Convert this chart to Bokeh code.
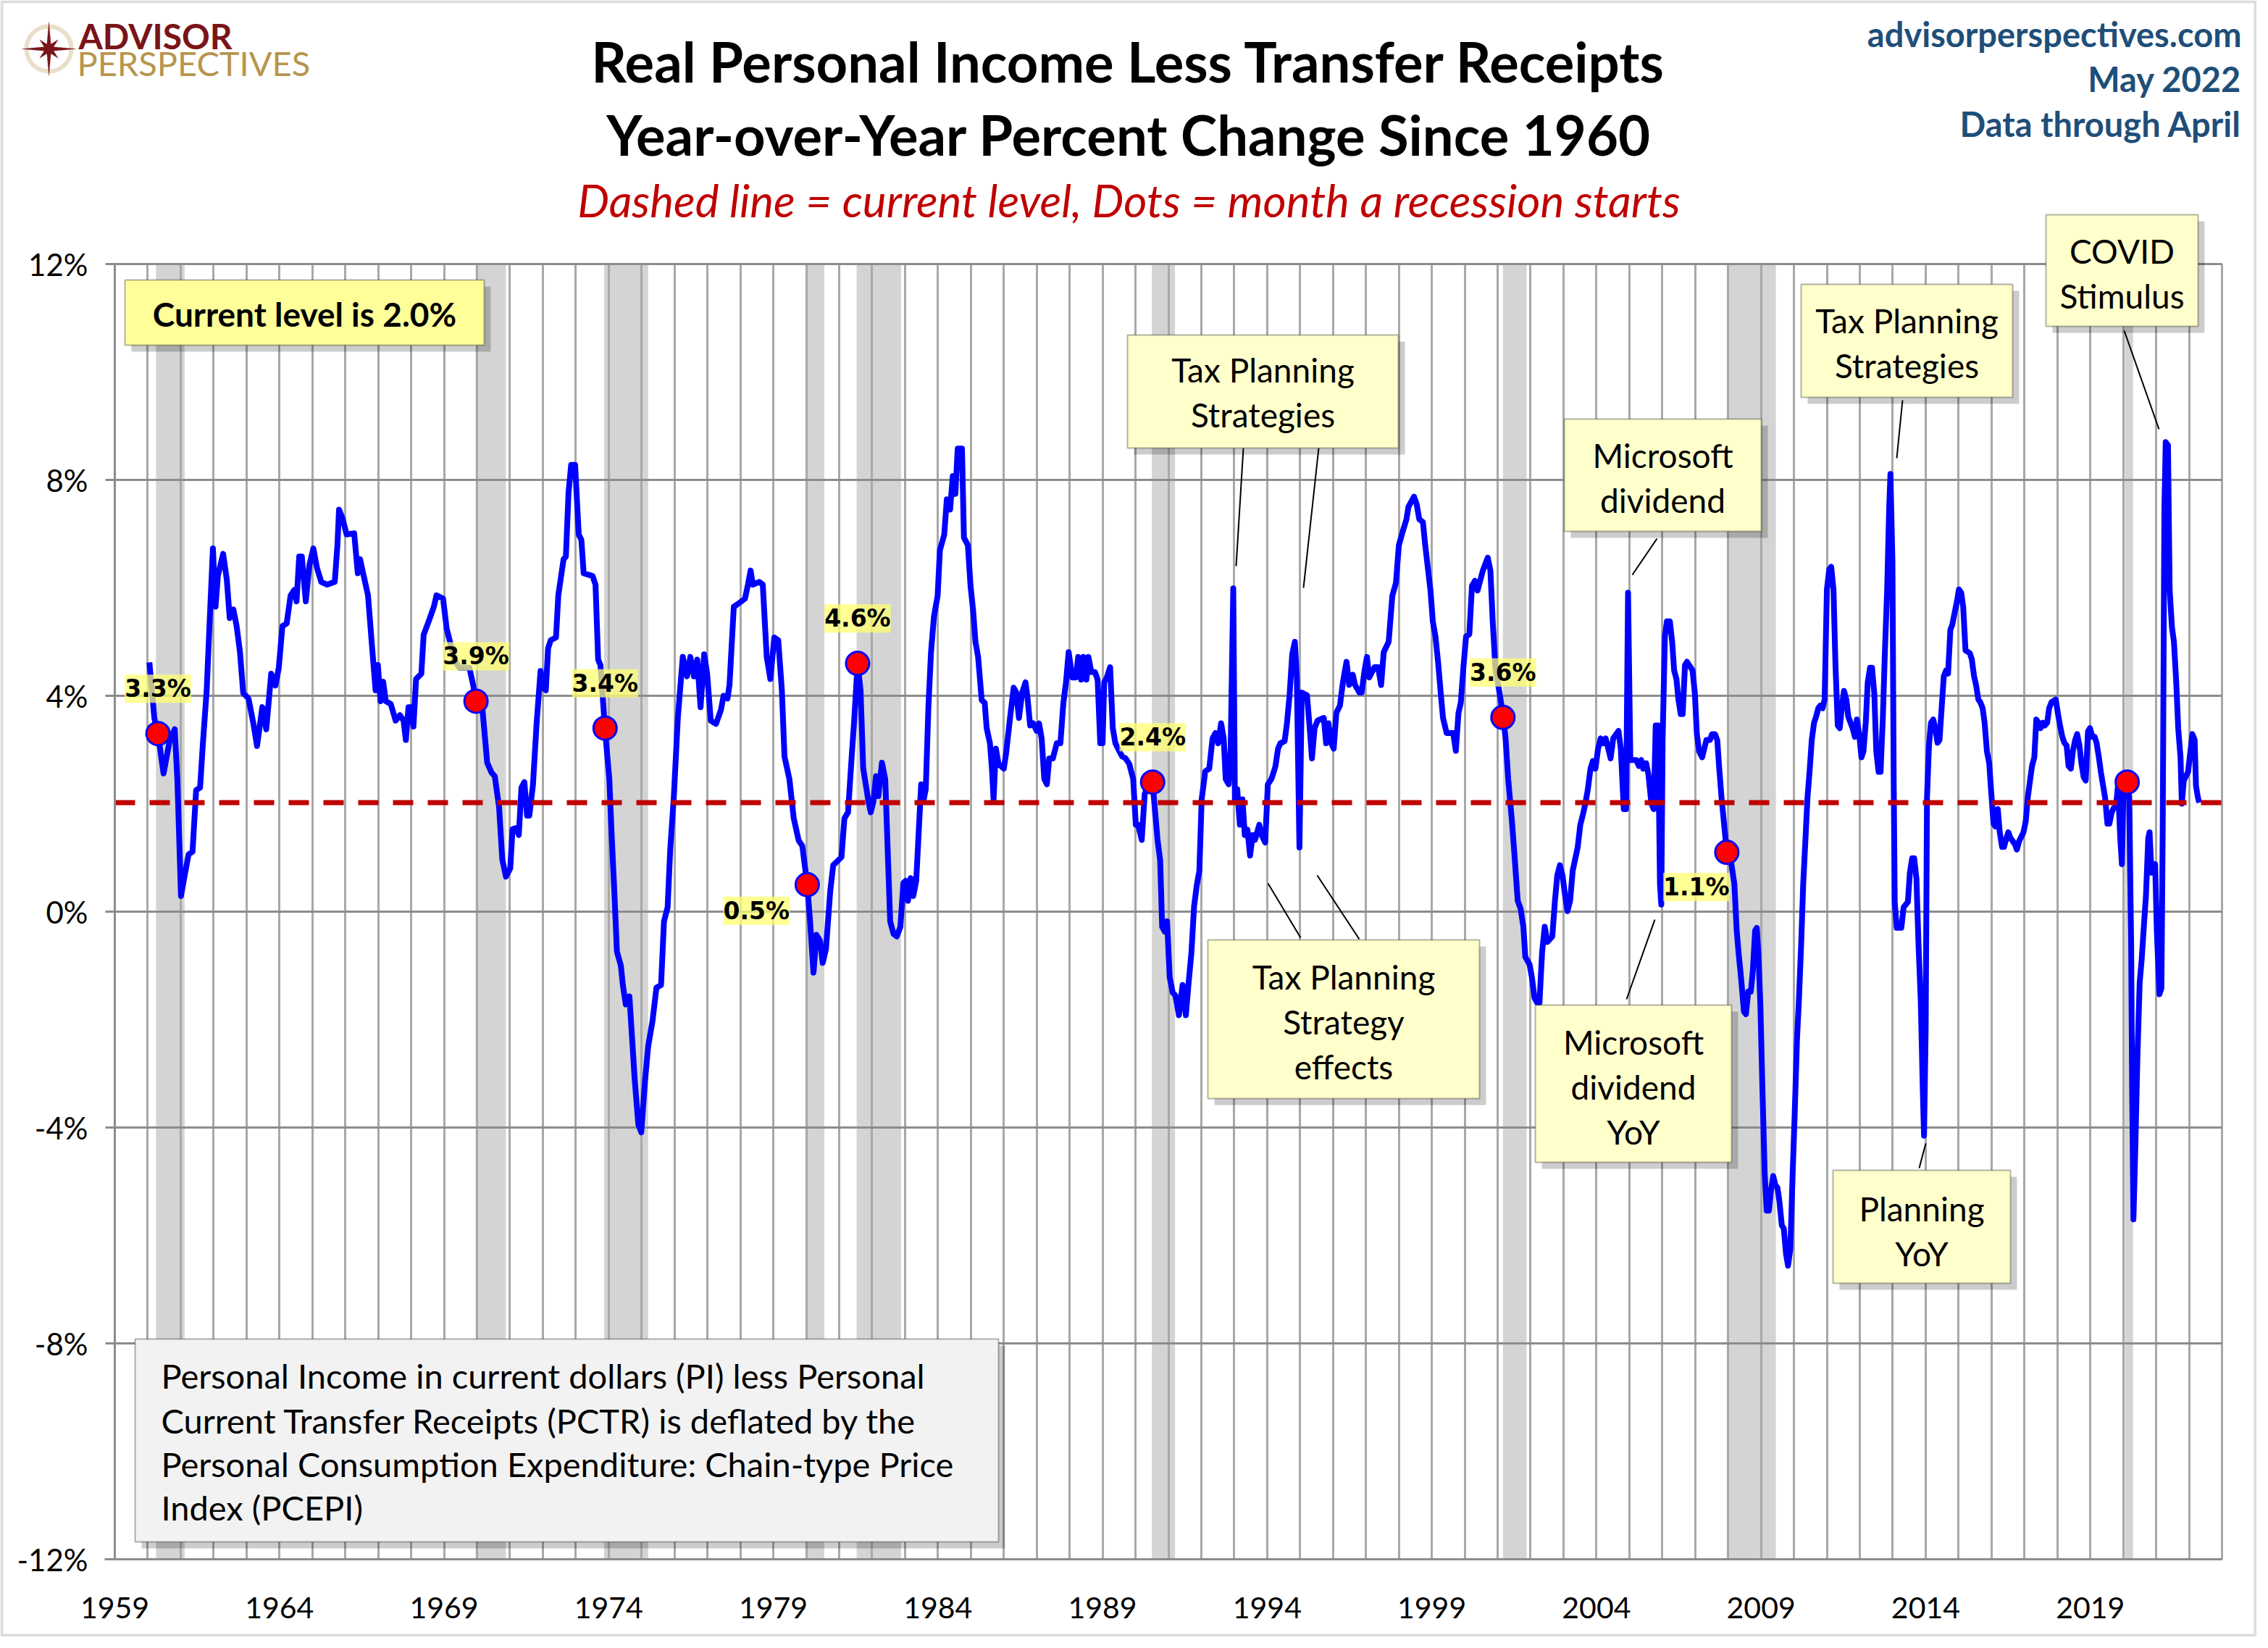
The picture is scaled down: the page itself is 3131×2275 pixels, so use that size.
import math
from bokeh.plotting import figure
from bokeh.models import (Label, BoxAnnotation, PolyAnnotation, FixedTicker, Grid,
                          PrintfTickFormatter, Range1d, LinearAxis, BasicTickFormatter)
from bokeh.embed import file_html
from bokeh.resources import INLINE

# ---------------- data ----------------
dates = [
    1960.05, 1960.20, 1960.31, 1960.48, 1960.67, 1960.82, 1960.90, 1961.01, 1961.13, 1961.24,
    1961.36, 1961.47, 1961.59, 1961.67, 1961.79, 1961.90, 1961.98, 1962.06, 1962.13, 1962.29,
    1962.40, 1962.49, 1962.60, 1962.70, 1962.80, 1962.90, 1963.06, 1963.21, 1963.32, 1963.48,
    1963.60, 1963.75, 1963.88, 1963.98, 1964.09, 1964.22, 1964.34, 1964.45, 1964.52, 1964.60,
    1964.68, 1964.80, 1964.91, 1965.03, 1965.14, 1965.27, 1965.45, 1965.68, 1965.76, 1965.81,
    1965.91, 1966.04, 1966.27, 1966.38, 1966.45, 1966.56, 1966.69, 1966.81, 1966.92, 1966.99,
    1967.07, 1967.15, 1967.23, 1967.38, 1967.53, 1967.66, 1967.77, 1967.84, 1967.92, 1968.00,
    1968.07, 1968.15, 1968.31, 1968.38, 1968.54, 1968.69, 1968.77, 1968.97, 1969.08, 1969.19,
    1969.31, 1969.46, 1969.77, 1969.88, 1969.97, 1970.16, 1970.31, 1970.44, 1970.54, 1970.67,
    1970.77, 1970.88, 1971.01, 1971.08, 1971.19, 1971.27, 1971.35, 1971.44, 1971.52, 1971.59,
    1971.70, 1971.81, 1971.93, 1972.01, 1972.09, 1972.16, 1972.24, 1972.40, 1972.47, 1972.63,
    1972.70, 1972.78, 1972.86, 1972.98, 1973.09, 1973.17, 1973.24, 1973.51, 1973.60, 1973.68,
    1973.75, 1973.89, 1974.02, 1974.09, 1974.17, 1974.25, 1974.37, 1974.43, 1974.52, 1974.63,
    1974.71, 1974.79, 1974.90, 1974.99, 1975.10, 1975.20, 1975.33, 1975.45, 1975.59, 1975.68,
    1975.79, 1975.87, 1975.98, 1976.10, 1976.25, 1976.38, 1976.48, 1976.59, 1976.69, 1976.79,
    1976.90, 1976.99, 1977.10, 1977.26, 1977.41, 1977.49, 1977.61, 1977.67, 1977.80, 1977.92,
    1978.14, 1978.23, 1978.31, 1978.38, 1978.57, 1978.68, 1978.80, 1978.91, 1979.03, 1979.15,
    1979.26, 1979.34, 1979.49, 1979.62, 1979.77, 1979.88, 1980.03, 1980.11, 1980.22, 1980.31,
    1980.42, 1980.50, 1980.60, 1980.73, 1980.82, 1981.07, 1981.16, 1981.27, 1981.38, 1981.45,
    1981.56, 1981.65, 1981.73, 1981.89, 1981.96, 1982.04, 1982.12, 1982.19, 1982.30, 1982.40,
    1982.49, 1982.55, 1982.65, 1982.75, 1982.86, 1982.95, 1983.02, 1983.09, 1983.17, 1983.25,
    1983.34, 1983.42, 1983.49, 1983.57, 1983.63, 1983.71, 1983.79, 1983.88, 1983.99, 1984.06,
    1984.19, 1984.27, 1984.37, 1984.45, 1984.53, 1984.60, 1984.73, 1984.79, 1984.91, 1984.99,
    1985.07, 1985.14, 1985.22, 1985.33, 1985.42, 1985.48, 1985.58, 1985.64, 1985.69, 1985.76,
    1985.84, 1986.00, 1986.07, 1986.19, 1986.30, 1986.38, 1986.46, 1986.56, 1986.66, 1986.72,
    1986.80, 1986.89, 1987.00, 1987.07, 1987.15, 1987.23, 1987.31, 1987.38, 1987.49, 1987.61,
    1987.72, 1987.81, 1987.89, 1987.97, 1988.08, 1988.19, 1988.26, 1988.35, 1988.42, 1988.51,
    1988.57, 1988.66, 1988.77, 1988.85, 1988.93, 1989.00, 1989.05, 1989.13, 1989.23, 1989.31,
    1989.39, 1989.47, 1989.59, 1989.70, 1989.81, 1989.93, 1990.01, 1990.08, 1990.19, 1990.28,
    1990.39, 1990.52, 1990.59, 1990.67, 1990.75, 1990.81, 1990.89, 1990.96, 1991.04, 1991.13,
    1991.21, 1991.32, 1991.43, 1991.53, 1991.60, 1991.70, 1991.78, 1991.86, 1991.94, 1992.01,
    1992.12, 1992.24, 1992.34, 1992.43, 1992.51, 1992.60, 1992.68, 1992.74, 1992.83, 1992.89,
    1992.97, 1993.02, 1993.09, 1993.17, 1993.25, 1993.32, 1993.40, 1993.48, 1993.56, 1993.63,
    1993.76, 1993.83, 1993.94, 1994.02, 1994.13, 1994.25, 1994.33, 1994.40, 1994.53, 1994.60,
    1994.68, 1994.76, 1994.84, 1994.90, 1994.98, 1995.05, 1995.21, 1995.28, 1995.36, 1995.44,
    1995.53, 1995.72, 1995.79, 1995.86, 1995.95, 1996.02, 1996.10, 1996.21, 1996.30, 1996.41,
    1996.49, 1996.60, 1996.67, 1996.80, 1996.87, 1996.95, 1997.03, 1997.10, 1997.26, 1997.37,
    1997.46, 1997.54, 1997.69, 1997.80, 1997.91, 1998.00, 1998.11, 1998.23, 1998.29, 1998.46,
    1998.54, 1998.62, 1998.73, 1998.80, 1998.88, 1998.96, 1999.03, 1999.11, 1999.19, 1999.27,
    1999.34, 1999.45, 1999.65, 1999.73, 1999.81, 1999.88, 1999.96, 2000.04, 2000.14, 2000.22,
    2000.31, 2000.39, 2000.55, 2000.70, 2000.78, 2000.85, 2000.93, 2001.16, 2001.24, 2001.32,
    2001.43, 2001.50, 2001.61, 2001.70, 2001.78, 2001.84, 2001.97, 2002.04, 2002.12, 2002.20,
    2002.27, 2002.35, 2002.43, 2002.51, 2002.66, 2002.74, 2002.81, 2002.89, 2002.97, 2003.05,
    2003.12, 2003.20, 2003.28, 2003.43, 2003.51, 2003.59, 2003.66, 2003.74, 2003.82, 2003.89,
    2003.97, 2004.05, 2004.13, 2004.20, 2004.28, 2004.36, 2004.43, 2004.51, 2004.67, 2004.74,
    2004.83, 2004.90, 2004.96, 2005.03, 2005.21, 2005.29, 2005.36, 2005.42, 2005.51, 2005.58,
    2005.67, 2005.74, 2005.80, 2005.87, 2005.93, 2005.97, 2006.01, 2006.08, 2006.14, 2006.23,
    2006.30, 2006.36, 2006.43, 2006.49, 2006.56, 2006.62, 2006.69, 2006.75, 2006.92, 2006.99,
    2007.05, 2007.12, 2007.21, 2007.34, 2007.45, 2007.51, 2007.60, 2007.67, 2007.73, 2007.80,
    2007.96, 2008.06, 2008.19, 2008.26, 2008.32, 2008.39, 2008.48, 2008.54, 2008.61, 2008.69,
    2008.75, 2008.82, 2008.87, 2008.92, 2008.98, 2009.04, 2009.11, 2009.17, 2009.24, 2009.30,
    2009.37, 2009.43, 2009.50, 2009.56, 2009.63, 2009.69, 2009.76, 2009.82, 2009.89, 2009.96,
    2010.02, 2010.09, 2010.15, 2010.22, 2010.28, 2010.35, 2010.41, 2010.48, 2010.54, 2010.61,
    2010.67, 2010.74, 2010.80, 2010.87, 2010.93, 2011.00, 2011.07, 2011.13, 2011.20, 2011.26,
    2011.33, 2011.39, 2011.46, 2011.52, 2011.59, 2011.65, 2011.72, 2011.78, 2011.85, 2011.91,
    2011.98, 2012.05, 2012.11, 2012.18, 2012.24, 2012.31, 2012.37, 2012.44, 2012.50, 2012.57,
    2012.63, 2012.70, 2012.76, 2012.83, 2012.89, 2012.93, 2012.99, 2013.03, 2013.06, 2013.12,
    2013.26, 2013.33, 2013.46, 2013.52, 2013.59, 2013.65, 2013.72, 2013.78, 2013.85, 2013.91,
    2013.95, 2014.00, 2014.04, 2014.10, 2014.16, 2014.23, 2014.29, 2014.36, 2014.42, 2014.49,
    2014.55, 2014.62, 2014.68, 2014.75, 2014.81, 2014.88, 2014.95, 2015.01, 2015.08, 2015.14,
    2015.21, 2015.34, 2015.40, 2015.47, 2015.53, 2015.60, 2015.66, 2015.73, 2015.79, 2015.86,
    2015.93, 2015.99, 2016.06, 2016.12, 2016.19, 2016.25, 2016.32, 2016.38, 2016.45, 2016.51,
    2016.58, 2016.64, 2016.71, 2016.77, 2016.84, 2016.97, 2017.04, 2017.10, 2017.17, 2017.23,
    2017.30, 2017.36, 2017.43, 2017.49, 2017.56, 2017.62, 2017.69, 2017.75, 2017.82, 2017.95,
    2018.02, 2018.08, 2018.15, 2018.21, 2018.28, 2018.34, 2018.41, 2018.47, 2018.54, 2018.60,
    2018.67, 2018.73, 2018.80, 2018.86, 2018.93, 2018.99, 2019.06, 2019.13, 2019.19, 2019.26,
    2019.32, 2019.39, 2019.45, 2019.52, 2019.58, 2019.65, 2019.71, 2019.78, 2019.84, 2019.91,
    2019.96, 2020.01, 2020.12, 2020.18, 2020.24, 2020.27, 2020.31, 2020.37, 2020.43, 2020.50,
    2020.56, 2020.63, 2020.69, 2020.76, 2020.80, 2020.86, 2020.97, 2021.02, 2021.10, 2021.16,
    2021.20, 2021.25, 2021.29, 2021.36, 2021.41, 2021.48, 2021.54, 2021.61, 2021.67, 2021.74,
    2021.78, 2021.84, 2021.97, 2022.04, 2022.10, 2022.17, 2022.21, 2022.27, 2022.31,
]
yoy = [
    4.62, 3.59, 3.30, 2.56, 3.18, 3.38, 2.45, 0.29, 0.70, 1.06,
    1.11, 2.25, 2.30, 3.07, 4.10, 5.65, 6.73, 5.65, 6.22, 6.63,
    6.16, 5.44, 5.60, 5.29, 4.82, 4.05, 3.95, 3.48, 3.07, 3.79,
    3.38, 4.41, 4.19, 4.52, 5.29, 5.34, 5.86, 5.96, 5.75, 6.58,
    6.58, 5.75, 6.42, 6.73, 6.37, 6.11, 6.06, 6.11, 6.78, 7.45,
    7.30, 6.99, 7.01, 6.27, 6.53, 6.22, 5.86, 4.93, 4.10, 4.57,
    3.90, 4.26, 3.90, 3.85, 3.54, 3.64, 3.54, 3.18, 3.79, 3.79,
    3.43, 4.31, 4.41, 5.13, 5.39, 5.65, 5.86, 5.80, 5.24, 4.98,
    4.67, 4.52, 4.52, 4.21, 3.92, 3.79, 2.76, 2.58, 2.51, 1.94,
    0.96, 0.65, 0.80, 1.53, 1.55, 1.42, 2.30, 2.40, 1.78, 1.78,
    2.35, 3.48, 4.46, 4.15, 4.10, 4.88, 5.03, 5.08, 5.86, 6.53,
    6.58, 7.76, 8.28, 8.28, 6.99, 6.89, 6.27, 6.22, 6.06, 4.67,
    4.57, 3.36, 2.45, 1.42, 0.39, -0.74, -1.00, -1.36, -1.72, -1.57,
    -2.34, -3.11, -3.94, -4.09, -3.16, -2.49, -2.03, -1.41, -1.36, -0.18,
    0.08, 1.16, 2.14, 3.59, 4.72, 4.36, 4.72, 4.36, 4.67, 3.79,
    4.77, 4.41, 3.54, 3.48, 3.74, 4.00, 3.95, 4.21, 5.65, 5.70,
    5.80, 6.06, 6.32, 6.06, 6.11, 6.06, 4.72, 4.31, 5.08, 5.03,
    4.10, 2.87, 2.45, 1.73, 1.32, 1.22, 0.50, -0.12, -1.13, -0.43,
    -0.54, -0.95, -0.69, 0.39, 0.86, 1.01, 1.73, 1.84, 2.87, 3.48,
    4.60, 4.10, 2.66, 2.04, 1.84, 2.04, 2.51, 2.14, 2.76, 2.45,
    0.86, -0.18, -0.41, -0.46, -0.28, 0.53, 0.57, 0.20, 0.62, 0.29,
    0.57, 1.52, 2.36, 2.08, 2.27, 3.78, 4.81, 5.47, 5.85, 6.70,
    6.98, 7.64, 7.45, 8.07, 7.74, 8.58, 8.58, 6.93, 6.79, 6.04,
    5.57, 5.00, 4.72, 3.92, 3.87, 3.40, 3.12, 2.65, 2.08, 3.02,
    2.74, 2.65, 2.93, 3.59, 4.15, 4.06, 3.59, 4.06, 4.25, 3.97,
    3.45, 3.49, 3.35, 3.49, 3.21, 2.46, 2.36, 2.84, 2.84, 3.12,
    3.12, 3.87, 4.25, 4.81, 4.34, 4.34, 4.72, 4.30, 4.72, 4.30,
    4.72, 4.44, 4.44, 4.30, 3.12, 3.12, 4.25, 4.34, 4.53, 3.40,
    3.12, 3.02, 2.88, 2.84, 2.74, 2.46, 1.61, 1.61, 1.33, 2.18,
    2.36, 2.40, 1.89, 1.33, 0.95, -0.28, -0.37, -0.18, -1.22, -1.50,
    -1.55, -1.92, -1.36, -1.92, -1.41, -0.75, 0.10, 0.48, 0.76, 2.08,
    2.60, 2.65, 3.21, 3.31, 3.12, 3.49, 3.21, 2.46, 2.36, 3.02,
    5.99, 2.08, 2.27, 1.61, 2.08, 1.42, 1.52, 1.04, 1.42, 1.33,
    1.61, 1.42, 1.28, 2.36, 2.46, 2.69, 3.02, 3.12, 3.16, 3.49,
    4.01, 4.77, 5.00, 4.34, 1.19, 4.06, 4.01, 3.49, 2.84, 3.40,
    3.54, 3.59, 3.12, 3.49, 3.12, 3.02, 3.68, 3.82, 4.25, 4.63,
    4.20, 4.39, 4.20, 4.06, 4.06, 4.44, 4.72, 4.34, 4.53, 4.53,
    4.20, 4.81, 5.00, 5.85, 6.09, 6.79, 7.03, 7.27, 7.50, 7.69,
    7.55, 7.27, 7.22, 6.79, 6.37, 5.95, 5.38, 5.10, 4.63, 4.06,
    3.59, 3.31, 3.31, 2.98, 3.68, 3.87, 4.53, 5.10, 5.14, 6.04,
    6.13, 5.95, 6.32, 6.56, 6.32, 5.38, 4.53, 3.66, 3.21, 2.46,
    1.70, 1.14, 0.20, 0.05, -0.28, -0.84, -0.98, -1.22, -1.60, -1.69,
    -1.69, -0.75, -0.28, -0.56, -0.46, 0.20, 0.67, 0.86, 0.67, 0.29,
    0.01, 0.20, 0.76, 1.19, 1.61, 1.80, 1.99, 2.27, 2.65, 2.79,
    2.65, 3.02, 3.21, 3.12, 3.21, 3.02, 2.84, 3.21, 3.35, 3.02,
    1.90, 1.90, 5.91, 2.81, 2.81, 2.70, 2.81, 2.65, 2.75, 2.54,
    2.00, 1.90, 3.45, 3.45, 0.51, 0.13, 3.18, 5.11, 5.38, 5.38,
    5.00, 4.47, 4.31, 3.93, 3.66, 3.66, 4.57, 4.63, 4.47, 4.04,
    3.29, 2.97, 2.86, 3.18, 3.18, 3.29, 3.29, 3.18, 2.65, 2.11,
    1.10, 1.04, 0.51, -0.35, -0.78, -1.21, -1.85, -1.90, -1.48, -1.48,
    -1.10, -0.35, -0.30, -0.78, -1.74, -3.24, -4.85, -5.54, -5.54, -5.17,
    -4.90, -5.06, -5.12, -5.38, -5.81, -5.87, -6.35, -6.56, -6.24, -4.85,
    -3.78, -2.39, -1.64, -0.57, 0.51, 1.36, 2.11, 2.65, 3.18, 3.50,
    3.61, 3.77, 3.82, 3.77, 3.93, 5.97, 6.34, 6.39, 5.97, 4.57,
    3.45, 3.40, 3.82, 4.09, 3.93, 3.61, 3.50, 3.40, 3.24, 3.56,
    3.29, 2.86, 2.97, 3.50, 4.25, 4.52, 4.52, 4.04, 2.97, 2.59,
    2.59, 3.61, 4.79, 5.97, 7.46, 8.11, 6.50, 2.33, 0.18, -0.30,
    -0.30, 0.08, 0.18, 0.72, 0.99, 0.99, 0.61, -0.57, -1.64, -3.24,
    -4.15, -2.17, 2.11, 3.08, 3.50, 3.56, 3.40, 3.13, 3.18, 3.82,
    4.36, 4.47, 4.41, 5.22, 5.32, 5.54, 5.75, 5.97, 5.91, 5.64,
    4.84, 4.79, 4.68, 4.36, 4.20, 3.93, 3.88, 3.77, 3.50, 2.97,
    2.75, 2.22, 1.63, 1.58, 1.90, 1.47, 1.20, 1.20, 1.36, 1.47,
    1.36, 1.31, 1.25, 1.15, 1.31, 1.47, 1.68, 2.11, 2.43, 2.70,
    2.86, 3.56, 3.50, 3.40, 3.50, 3.45, 3.50, 3.77, 3.88, 3.93,
    3.66, 3.45, 3.24, 3.13, 3.08, 2.70, 2.65, 2.97, 3.18, 3.29,
    3.08, 2.75, 2.49, 2.43, 3.34, 3.40, 3.24, 3.24, 3.13, 2.86,
    2.59, 2.33, 2.11, 1.63, 1.63, 1.84, 1.92, 1.95, 2.33, 1.36,
    0.88, 2.33, 2.40, 2.11, -0.57, -3.24, -5.70, -4.31, -2.71, -1.31,
    -0.89, -0.24, 0.29, 1.36, 1.47, 0.72, 0.88, -0.35, -1.53, -1.42,
    1.58, 7.46, 8.70, 8.64, 5.97, 5.27, 5.00, 4.25, 3.40, 2.86,
    2.00, 2.43, 2.59, 2.97, 3.29, 3.18, 2.33, 2.11, 2.02,
]

# recession start dots (month a recession starts)
recession_dot_dates = [1960.31, 1969.97, 1973.89, 1980.03, 1981.56, 1990.52, 2001.16, 2007.96, 2020.12]
recession_dot_values = [3.3, 3.9, 3.4, 0.5, 4.6, 2.4, 3.6, 1.1, 2.4]
recession_dot_labeled = [True, True, True, True, True, True, True, True, False]

# recession bands
recession_start = [1960.25, 1969.96, 1973.86, 1980.00, 1981.53, 1990.50, 2001.16, 2007.96, 2020.05]
recession_end = [1961.12, 1970.88, 1975.20, 1980.55, 1982.88, 1991.20, 2001.88, 2009.45, 2020.30]

current_level = yoy[-1]

x_tick_years = [1959, 1964, 1969, 1974, 1979, 1984, 1989, 1994, 1999, 2004, 2009, 2014, 2019]
y_tick_values = [-12, -8, -4, 0, 4, 8, 12]

title_1 = "Real Personal Income Less Transfer Receipts"
title_2 = "Year-over-Year Percent Change Since 1960"
subtitle = "Dashed line = current level, Dots = month a recession starts"
source_lines = ["advisorperspectives.com", "May 2022", "Data through April"]
note_lines = [
    "Personal Income in current dollars  (PI) less Personal",
    "Current Transfer Receipts (PCTR) is deflated by the",
    "Personal Consumption Expenditure: Chain-type Price",
    "Index (PCEPI)",
]

# ---------------- layout ----------------
W, H = 3115, 2259
OFF = 8  # page margin: reference-pixel -> canvas-pixel
FL, FR, FT, FB = 158, 3067, 364, 2152   # plot-area edges in canvas px
X0, X1 = 1959, 2023
Y0, Y1 = -12, 12


def dx(px):
    """reference-image x pixel -> data x"""
    return X0 + (px - OFF - FL) / (FR - FL) * (X1 - X0)


def dy(py):
    """reference-image y pixel -> data y"""
    return Y1 - (py - OFF - FT) / (FB - FT) * (Y1 - Y0)


# the frame covers the whole canvas; the plot area is 1959..2023 x -12..12
p = figure(width=W, height=H, output_backend="svg", toolbar_location=None,
           x_range=Range1d(dx(OFF), dx(OFF + W)), y_range=Range1d(dy(OFF + H), dy(OFF)),
           min_border=0, x_axis_location=None, y_axis_location=None)
p.outline_line_color = None
p.background_fill_color = "white"
p.border_fill_color = "white"
p.xgrid.visible = False
p.ygrid.visible = False

# recession shading (beneath the grid)
p.quad(left=recession_start, right=recession_end, bottom=Y0, top=Y1,
       fill_color="#d4d4d4", line_color=None, level="image")

# grids, limited to the plot area
xgrid = Grid(dimension=0, ticker=FixedTicker(ticks=list(range(X0, X1 + 1))),
             grid_line_color="#a8a8a8", grid_line_width=3,
             bounds=(X0, X1), cross_bounds=(Y0, Y1))
ygrid = Grid(dimension=1, ticker=FixedTicker(ticks=y_tick_values),
             grid_line_color="#8c8c8c", grid_line_width=3,
             bounds=(Y0, Y1), cross_bounds=(X0, X1))
p.add_layout(xgrid)
p.add_layout(ygrid)

# axes fixed at the plot-area edges
xaxis = LinearAxis(fixed_location=Y0, bounds=(X0 - 0.3, X1),
                   ticker=FixedTicker(ticks=x_tick_years),
                   formatter=BasicTickFormatter(use_scientific=False))
xaxis.major_tick_line_color = None
xaxis.minor_tick_line_color = None
xaxis.axis_line_color = "#8c8c8c"
xaxis.axis_line_width = 3
xaxis.major_label_standoff = 46
xaxis.major_label_text_font = "Lato"
xaxis.major_label_text_font_size = "41px"
xaxis.major_label_text_color = "black"
p.add_layout(xaxis, "below")

yaxis = LinearAxis(fixed_location=X0, bounds=(Y0, Y1),
                   ticker=FixedTicker(ticks=y_tick_values),
                   formatter=PrintfTickFormatter(format="%d%%"))
yaxis.minor_tick_line_color = None
yaxis.major_tick_in = 0
yaxis.major_tick_out = 13
yaxis.major_tick_line_color = "#8c8c8c"
yaxis.major_tick_line_width = 3
yaxis.axis_line_color = "#8c8c8c"
yaxis.axis_line_width = 3
yaxis.major_label_standoff = 24
yaxis.major_label_text_font = "Lato"
yaxis.major_label_text_font_size = "42px"
yaxis.major_label_text_color = "black"
p.add_layout(yaxis, "left")

# main series
p.line(dates, yoy, line_color="#0000ff", line_width=8, line_join="round")

# current level dashed line
p.line([X0, X1], [current_level, current_level], line_color="#c00000",
       line_width=7, line_dash="28 20")

# recession start dots
p.scatter(recession_dot_dates, recession_dot_values, size=32, fill_color="#ff0000",
          line_color="#0000ff", line_width=3)

# dot labels (offsets in px relative to dot)
label_offsets = [(0, 62), (0, 62), (0, 62), (-70, -36), (0, 62), (0, 62), (0, 62), (-42, -48), (0, 62)]
for d, v, show, (ox, oy) in zip(recession_dot_dates, recession_dot_values,
                                 recession_dot_labeled, label_offsets):
    if not show:
        continue
    p.add_layout(Label(x=d, y=v, x_offset=ox, y_offset=oy, text=f"{v:.1f}%",
                       text_font="DejaVu Sans", text_font_style="bold",
                       text_font_size="33px", text_color="black",
                       text_align="center", text_baseline="middle",
                       background_fill_color="#ffff70", background_fill_alpha=0.75))


# ---------------- annotation helpers ----------------
def box(x0, y0, x1, y1, fill, shadow=True, lw=2):
    if shadow:
        p.add_layout(BoxAnnotation(left=dx(x0 + 9), right=dx(x1 + 9), top=dy(y0 + 9), bottom=dy(y1 + 9),
                                   fill_color="black", fill_alpha=0.2, line_color=None))
    p.add_layout(BoxAnnotation(left=dx(x0), right=dx(x1), top=dy(y0), bottom=dy(y1),
                               fill_color=fill, fill_alpha=1.0, line_color="black",
                               line_width=lw))


def text(x, y, s, size, font="Lato", style="normal", color="black", align="center"):
    p.add_layout(Label(x=dx(x), y=dy(y), text=s, text_font=font, text_font_style=style,
                       text_font_size=f"{size}px", text_color=color,
                       text_align=align, text_baseline="middle"))


def callout(x0, y0, x1, y1, lines, ys, size=46):
    box(x0, y0, x1, y1, "#ffffcc")
    for s, yy in zip(lines, ys):
        text((x0 + x1) / 2, yy, s, size)


# leader lines (reference px)
leaders = [
    ((1724, 626), (1714, 789)),
    ((1828, 626), (1807, 819)),
    ((2295, 751), (2261, 801)),
    ((1803, 1302), (1758, 1227)),
    ((1884, 1304), (1826, 1216)),
    ((2292, 1277), (2253, 1387)),
    ((2634, 560), (2626, 640)),
    ((2940, 464), (2988, 600)),
    ((2666, 1586), (2657, 1620)),
]
p.segment(x0=[dx(a[0]) for a, b in leaders], y0=[dy(a[1]) for a, b in leaders],
          x1=[dx(b[0]) for a, b in leaders], y1=[dy(b[1]) for a, b in leaders],
          line_color="black", line_width=2)

# current level box
box(180, 394, 676, 484, "#ffff99")
text(428, 441, f"Current level is {current_level:.1f}%", 46, style="bold")

callout(1564, 470, 1938, 626, ["Tax Planning", "Strategies"], [518, 580])
callout(2167, 586, 2439, 741, ["Microsoft", "dividend"], [636, 698])
callout(1675, 1305, 2050, 1524, ["Tax Planning", "Strategy", "effects"], [1356, 1418, 1480])
callout(2127, 1395, 2398, 1612, ["Microsoft", "dividend", "YoY"], [1446, 1508, 1570])
callout(2494, 400, 2786, 556, ["Tax Planning", "Strategies"], [450, 512])
callout(2832, 304, 3042, 458, ["COVID", "Stimulus"], [354, 416])
callout(2538, 1623, 2783, 1779, ["Planning", "YoY"], [1676, 1738])

# note box
box(194, 1856, 1386, 2136, "#f2f2f2")
for s, yy in zip(note_lines, [1906, 1968, 2028, 2088]):
    text(230, yy, s, 47, align="left")

# titles
text(1566, 92, title_1, 76, style="bold")
text(1566, 193, title_2, 76, style="bold")
text(1566, 283, subtitle, 62, style="italic", color="#c00000")
for s, yy in zip(source_lines, [54, 116, 178]):
    text(3102, yy, s, 47, style="bold", color="#1f4e79", align="right")

# logo
cx_, cy_ = 75, 75
ring = [(cx_ + 31 * math.cos(t / 48 * 2 * math.pi), cy_ + 31 * math.sin(t / 48 * 2 * math.pi)) for t in range(49)]
p.add_layout(PolyAnnotation(xs=[dx(a) for a, b in ring], ys=[dy(b) for a, b in ring],
                            fill_alpha=0, line_color="#b8954e", line_width=6))
star = []
for k in range(16):
    r = 37 if k % 4 == 0 else (18 if k % 4 == 2 else 7)
    ang = k * math.pi / 8
    star.append((cx_ + r * math.cos(ang), cy_ + r * math.sin(ang)))
p.add_layout(PolyAnnotation(xs=[dx(a) for a, b in star], ys=[dy(b) for a, b in star],
                            fill_color="#7a1418", fill_alpha=1, line_color="#7a1418", line_width=1))
text(116, 57, "ADVISOR", 48, style="bold", color="#7a1418", align="left")
text(114, 94, "PERSPECTIVES", 47, color="#b8954e", align="left")

# outer border
p.add_layout(BoxAnnotation(left=dx(OFF + 2), right=dx(OFF + W - 2), top=dy(OFF + 2), bottom=dy(OFF + H - 2),
                           fill_alpha=0, line_color="#8c8c8c", line_width=4))

open("out.html", "w").write(file_html(p, INLINE))
